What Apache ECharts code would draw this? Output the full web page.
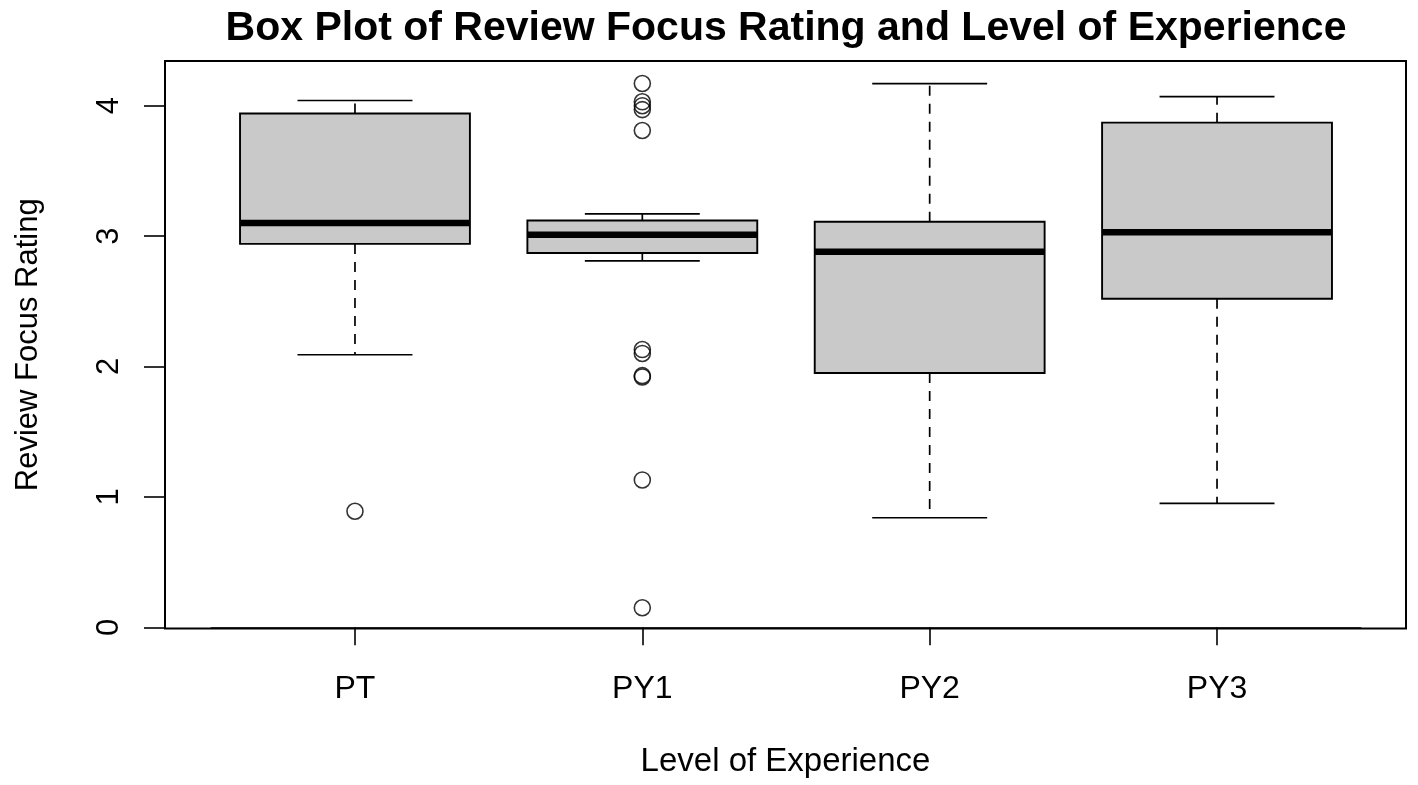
<!DOCTYPE html>
<html>
<head>
<meta charset="utf-8">
<script src="https://cdn.jsdelivr.net/npm/echarts@6/dist/echarts.min.js"></script>
<style>
html,body{margin:0;padding:0;background:#fff;}
#chart{width:1418px;height:785px;}
</style>
</head>
<body>
<div id="chart"></div>
<script>
// ---- data ----
var categories = ['PT', 'PY1', 'PY2', 'PY3'];
var lowerWhisker = [2.09, 2.81, 0.84, 0.95];
var q1 = [2.94, 2.87, 1.95, 2.52];
var median = [3.10, 3.01, 2.88, 3.03];
var q3 = [3.94, 3.12, 3.11, 3.87];
var upperWhisker = [4.04, 3.17, 4.17, 4.07];
var outliersPT = [0.89];
var outliersPY1 = [4.17, 4.03, 4.00, 3.97, 3.81, 2.13, 2.10, 1.93, 1.92, 1.13, 0.15];
var outliersPY2 = [];
var outliersPY3 = [];
var yTicks = [0, 1, 2, 3, 4];

var FONT = 'Liberation Sans, Arial, sans-serif';

var boxData = categories.map(function (c, i) {
  return [i, lowerWhisker[i], q1[i], median[i], q3[i], upperWhisker[i]];
});
var outlierSets = [outliersPT, outliersPY1, outliersPY2, outliersPY3];
var outlierData = [];
outlierSets.forEach(function (arr, i) {
  arr.forEach(function (v) { outlierData.push([i, v]); });
});

function renderBox(params, api) {
  var idx = api.value(0);
  var band = api.size([1, 0])[0];
  var bw = band * 0.8;
  var sw = bw * 0.5;
  var pLo = api.coord([idx, api.value(1)]);
  var pQ1 = api.coord([idx, api.value(2)]);
  var pMed = api.coord([idx, api.value(3)]);
  var pQ3 = api.coord([idx, api.value(4)]);
  var pHi = api.coord([idx, api.value(5)]);
  var cx = pMed[0];
  var lineStyle = { stroke: '#000', lineWidth: 1.7, fill: null };
  var dashStyle = { stroke: '#000', lineWidth: 1.7, lineDash: [10, 8], fill: null };
  return {
    type: 'group',
    children: [
      { type: 'line', shape: { x1: cx, y1: pQ3[1], x2: cx, y2: pHi[1] }, style: dashStyle },
      { type: 'line', shape: { x1: cx, y1: pQ1[1], x2: cx, y2: pLo[1] }, style: dashStyle },
      { type: 'line', shape: { x1: cx - sw / 2, y1: pHi[1], x2: cx + sw / 2, y2: pHi[1] }, style: lineStyle },
      { type: 'line', shape: { x1: cx - sw / 2, y1: pLo[1], x2: cx + sw / 2, y2: pLo[1] }, style: lineStyle },
      { type: 'rect', shape: { x: cx - bw / 2, y: pQ3[1], width: bw, height: pQ1[1] - pQ3[1] },
        style: { fill: '#c9c9c9', stroke: '#000', lineWidth: 1.9 } },
      { type: 'line', shape: { x1: cx - bw / 2, y1: pMed[1], x2: cx + bw / 2, y2: pMed[1] },
        style: { stroke: '#000', lineWidth: 6.5 } }
    ]
  };
}

var chart = echarts.init(document.getElementById('chart'), null, { renderer: 'canvas' });
chart.setOption({
  backgroundColor: '#fff',
  animation: false,
  title: {
    text: 'Box Plot of Review Focus Rating and Level of Experience',
    left: 786, top: 8, padding: 0, textAlign: 'center',
    textStyle: { fontFamily: FONT, fontSize: 41, fontWeight: 'bold', color: '#000' }
  },
  grid: [
    { left: 165, right: 12, top: 61, bottom: 156.5, show: true, borderColor: '#000', borderWidth: 2, backgroundColor: 'transparent' },
    { left: 211.3, right: 57.3, top: 105.7, bottom: 157.7 }
  ],
  xAxis: [
    { gridIndex: 0, type: 'value', min: 0, max: 1,
      name: 'Level of Experience', nameLocation: 'middle', nameGap: 117,
      nameTextStyle: { fontFamily: FONT, fontSize: 33, color: '#000' },
      axisLine: { show: false }, axisTick: { show: false }, axisLabel: { show: false }, splitLine: { show: false } },
    { gridIndex: 1, type: 'category', data: categories, boundaryGap: true, offset: 1,
      axisLine: { show: true, lineStyle: { color: '#000', width: 1.6 } },
      axisTick: { show: true, alignWithLabel: true, length: 18, lineStyle: { color: '#000', width: 1.6 } },
      axisLabel: { fontFamily: FONT, fontSize: 32, color: '#000', margin: 45 },
      splitLine: { show: false } }
  ],
  yAxis: [
    { gridIndex: 0, type: 'value', min: 0, max: 1,
      name: 'Review Focus Rating', nameLocation: 'middle', nameGap: 121,
      nameTextStyle: { fontFamily: FONT, fontSize: 31, color: '#000' },
      axisLine: { show: false }, axisTick: { show: false }, axisLabel: { show: false }, splitLine: { show: false } },
    { gridIndex: 1, type: 'value', min: 0, max: 4, interval: 1, offset: 46.3,
      axisLine: { show: true, lineStyle: { color: '#000', width: 1.6 } },
      axisTick: { show: true, length: 21, lineStyle: { color: '#000', width: 1.6 } },
      axisLabel: { fontFamily: FONT, fontSize: 31, color: '#000', rotate: 90, margin: 40,
        customValues: yTicks },
      splitLine: { show: false } }
  ],
  series: [
    { type: 'custom', xAxisIndex: 1, yAxisIndex: 1, data: boxData, renderItem: renderBox,
      encode: { x: 0, y: [1, 2, 3, 4, 5] }, clip: false, silent: true },
    { type: 'scatter', xAxisIndex: 1, yAxisIndex: 1, data: outlierData,
      symbol: 'circle', symbolSize: 16, clip: false, silent: true,
      itemStyle: { color: 'transparent', borderColor: '#000', borderWidth: 1.6 } }
  ]
});
</script>
</body>
</html>
